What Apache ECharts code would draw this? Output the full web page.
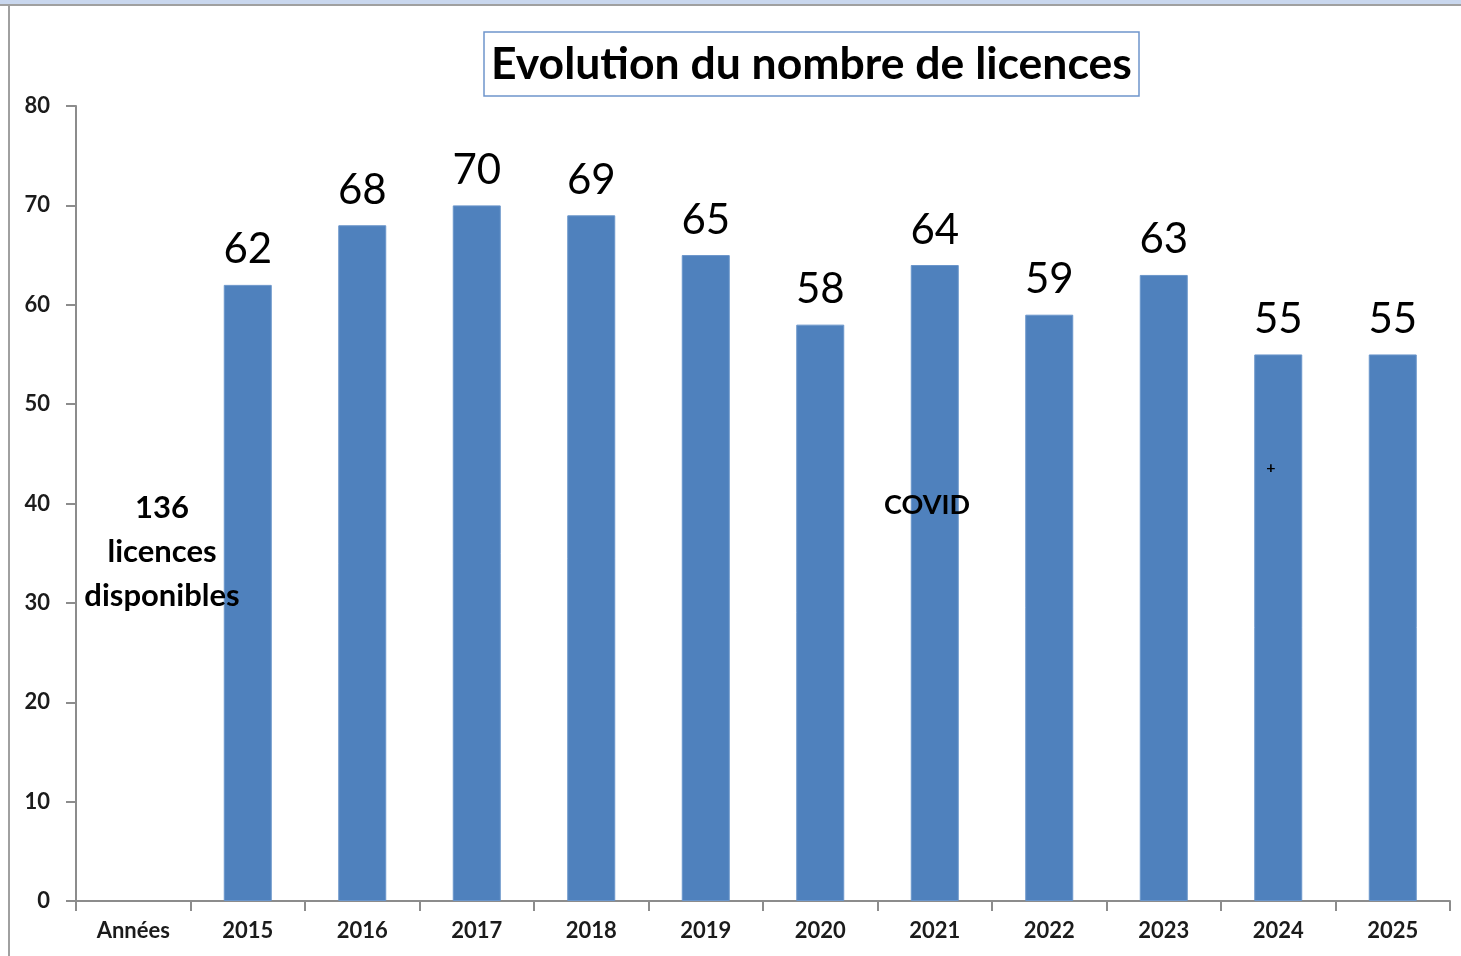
<!DOCTYPE html>
<html>
<head>
<meta charset="utf-8">
<script src="https://cdn.jsdelivr.net/npm/echarts@6/dist/echarts.min.js"></script>
<style>
  html, body { margin: 0; padding: 0; background: #fff; }
  .frame { position: relative; width: 1461px; height: 956px; overflow: hidden; }
  .frame .topbar { position: absolute; left: 0; top: 0; width: 100%; height: 4px; background: #c9d7ee; }
  .frame .topline { position: absolute; left: 0; top: 4px; width: 100%; height: 2px; background: #a0a0a0; }
  .frame .leftline { position: absolute; left: 8px; top: 4px; width: 2px; height: 952px; background: #a0a0a0; }
  #myechart { position: absolute; left: 0; top: 0; width: 1461px; height: 956px; }
</style>
</head>
<body>
<div class="frame">
  <div id="myechart"></div>
  <div class="topbar"></div>
  <div class="topline"></div>
  <div class="leftline"></div>
</div>
<script>
  const categories = ['Années', '2015', '2016', '2017', '2018', '2019', '2020', '2021', '2022', '2023', '2024', '2025'];
  const licences = ['-', 62, 68, 70, 69, 65, 58, 64, 59, 63, 55, 55];
  const yTicks = [0, 10, 20, 30, 40, 50, 60, 70, 80];

  const font = 'Lato, "Open Sans", sans-serif';
  let chart = echarts.init(document.getElementById('myechart'));
  let option = {
    animation: false,
    title: {
      text: 'Evolution du nombre de licences',
      left: 484,
      top: 32,
      padding: [10, 7, 9, 7],
      borderColor: '#6f95cc',
      borderWidth: 1.5,
      textStyle: {
        fontFamily: font,
        fontSize: 44.5,
        fontWeight: 'bold',
        color: '#000'
      }
    },
    grid: {
      left: 76,
      right: 11,
      top: 106,
      bottom: 55
    },
    xAxis: {
      type: 'category',
      data: categories,
      axisLine: { lineStyle: { color: '#8c8c8c', width: 2 } },
      axisTick: { show: true, length: 10, lineStyle: { color: '#8c8c8c', width: 2 } },
      axisLabel: {
        margin: 19,
        fontFamily: font,
        fontSize: 22,
        fontWeight: 'bold',
        color: '#1b1b1b'
      }
    },
    yAxis: {
      type: 'value',
      min: yTicks[0],
      max: yTicks[yTicks.length - 1],
      interval: 10,
      splitLine: { show: false },
      axisLine: { show: true, lineStyle: { color: '#8c8c8c', width: 2 } },
      axisTick: { show: true, length: 10, lineStyle: { color: '#8c8c8c', width: 2 } },
      axisLabel: {
        margin: 26,
        fontFamily: font,
        fontSize: 22,
        fontWeight: 'bold',
        color: '#1b1b1b'
      }
    },
    series: [{
      name: 'Licences',
      type: 'bar',
      data: licences,
      barWidth: 48,
      itemStyle: { color: '#4f81bd', borderColor: '#6b96cb', borderWidth: 1 },
      label: {
        show: true,
        position: 'top',
        distance: 14,
        fontFamily: font,
        fontSize: 42,
        color: '#000'
      }
    }],
    graphic: [
      {
        type: 'text',
        z: 100,
        style: {
          text: '136\nlicences\ndisponibles',
          x: 162, y: 552,
          textAlign: 'center',
          textVerticalAlign: 'middle',
          lineHeight: 44,
          font: 'bold 31px ' + font,
          fill: '#000'
        }
      },
      {
        type: 'text',
        z: 100,
        style: {
          text: 'COVID',
          x: 927, y: 505,
          textAlign: 'center',
          textVerticalAlign: 'middle',
          font: 'bold 27px ' + font,
          fill: '#000'
        }
      },
      {
        type: 'text',
        z: 100,
        style: {
          text: '+',
          x: 1271, y: 468,
          textAlign: 'center',
          textVerticalAlign: 'middle',
          font: 'bold 16px ' + font,
          fill: '#000'
        }
      }
    ]
  };
  chart.setOption(option);
</script>
</body>
</html>
